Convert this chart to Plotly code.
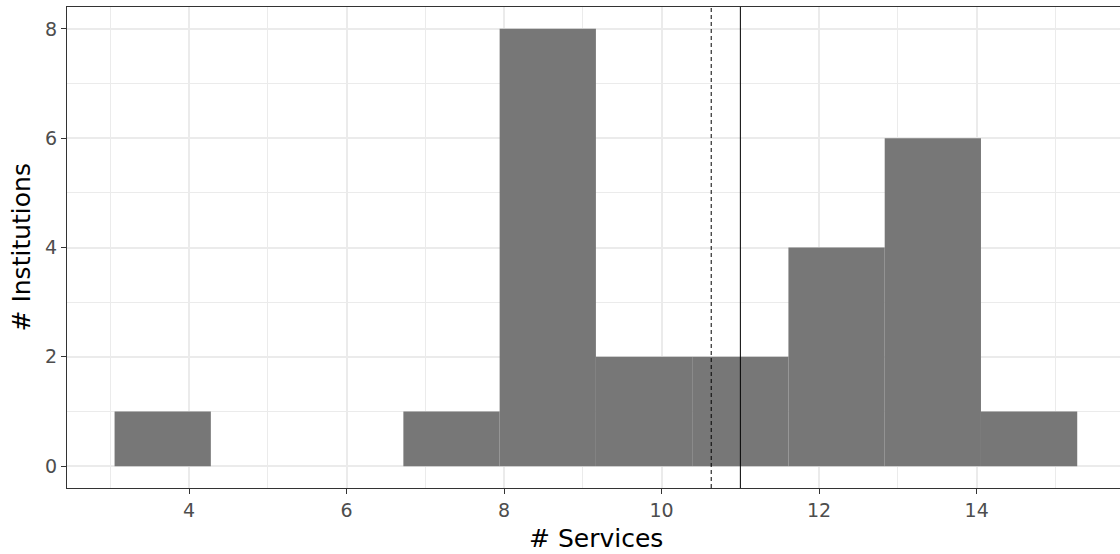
import plotly.graph_objects as go

# Histogram bins
bin_start = 3.055
bin_width = 1.2222
counts = [1, 0, 0, 1, 8, 2, 2, 4, 6, 1]
mean_services = 10.63
median_services = 11.0
x_ticks = [4, 6, 8, 10, 12, 14]
y_ticks = [0, 2, 4, 6, 8]

centers = [bin_start + bin_width * (i + 0.5) for i in range(len(counts))]

fig = go.Figure()
fig.add_trace(go.Bar(
    x=centers, y=counts, width=[bin_width] * len(counts),
    marker=dict(color="#777777", line=dict(width=0)),
    hoverinfo="x+y",
))

fig.add_shape(type="line", xref="x", yref="paper", x0=mean_services, x1=mean_services,
              y0=0, y1=1, line=dict(color="black", width=1, dash="4px,3px"))
fig.add_shape(type="line", xref="x", yref="paper", x0=median_services, x1=median_services,
              y0=0, y1=1, line=dict(color="black", width=1))

grid = "#EBEBEB"
tickfont = dict(family="DejaVu Sans", size=19, color="#4D4D4D")
fig.update_layout(
    width=1120, height=554,
    margin=dict(l=67, r=0, t=7, b=66),
    paper_bgcolor="white", plot_bgcolor="white",
    showlegend=False,
    font=dict(family="DejaVu Sans"),
    xaxis=dict(
        range=[2.451, 15.82], tickvals=x_ticks, ticktext=[str(v) for v in x_ticks],
        showgrid=True, gridcolor=grid, gridwidth=1.8,
        minor=dict(tickvals=[3, 5, 7, 9, 11, 13, 15], showgrid=True, gridcolor=grid, gridwidth=0.9, ticks=""),
        showline=True, linecolor="#333333", linewidth=1.2, mirror=True,
        ticks="outside", ticklen=5, tickwidth=1.4, tickcolor="#333333",
        tickfont=tickfont, zeroline=False,
    ),
    yaxis=dict(
        range=[-0.4, 8.4], tickvals=y_ticks, ticktext=[str(v) for v in y_ticks],
        showgrid=True, gridcolor=grid, gridwidth=1.8,
        minor=dict(tickvals=[1, 3, 5, 7], showgrid=True, gridcolor=grid, gridwidth=0.9, ticks=""),
        showline=True, linecolor="#333333", linewidth=1.2,
        ticks="outside", ticklen=5, tickwidth=1.4, tickcolor="#333333",
        tickfont=tickfont, zeroline=False,
    ),
    annotations=[
        dict(text="# Services", xref="paper", yref="paper", x=0.5024, y=0,
             yshift=-50, xanchor="center", yanchor="middle", showarrow=False,
             font=dict(family="DejaVu Sans", size=25, color="black")),
        dict(text="# Institutions", xref="paper", yref="paper", x=0, y=0.5,
             xshift=-46, xanchor="center", yanchor="middle", showarrow=False, textangle=-90,
             font=dict(family="DejaVu Sans", size=25, color="black")),
    ],
)

fig.write_html("out.html", config={"displayModeBar": False},
               post_script="document.body.style.margin='0';document.body.style.overflow='hidden';")
